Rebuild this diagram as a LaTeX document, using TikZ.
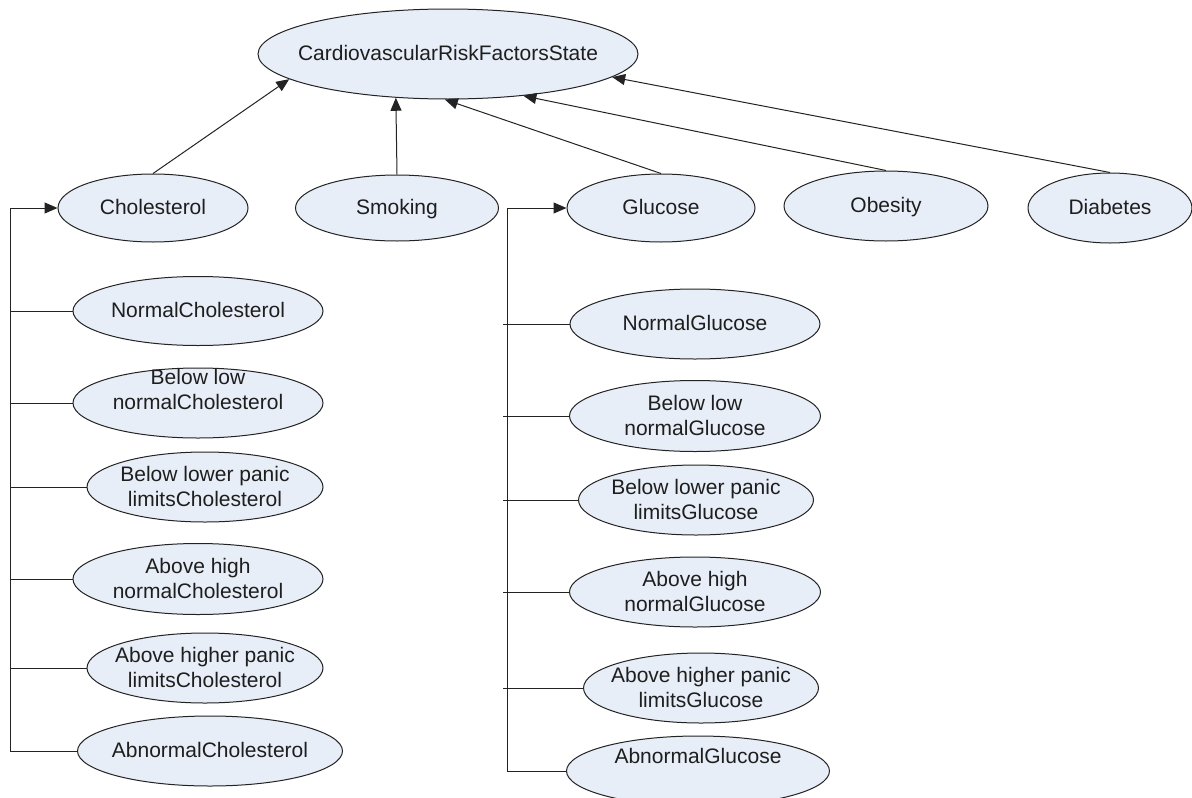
\documentclass[tikz,border=0pt]{standalone}
\usepackage{fontspec}
\setmainfont{Liberation Sans}
\usetikzlibrary{arrows.meta,shapes.geometric}
\definecolor{ellfill}{RGB}{232,238,248}
\definecolor{edgecol}{RGB}{35,35,35}
\definecolor{textcol}{RGB}{30,30,30}
% zero-size label so that the ellipse takes exactly its minimum size
\newcommand{\ctext}[2][0pt]{\makebox[0pt]{\raisebox{\dimexpr#1-6.75pt\relax}[0pt][0pt]{\begin{tabular}{@{}c@{}}#2\end{tabular}}}}
\begin{document}
\begin{tikzpicture}[x=1pt,y=-1pt,
  st/.style={ellipse,draw=edgecol,fill=ellfill,line width=1pt,inner sep=0pt,
    text=textcol,font=\fontsize{21pt}{25pt}\selectfont},
  link/.style={draw=edgecol,line width=1pt},
  arr/.style={link,-{Triangle[length=13pt,width=11pt]}}]
\useasboundingbox (0,0) rectangle (1192,798);
\fill[white] (0,0) rectangle (1192,798);

% top node
\node[st,minimum width=380pt,minimum height=90pt] (top) at (448,54) {\ctext{CardiovascularRiskFactorsState}};

% second level
\node[st,minimum width=190pt,minimum height=68pt] (chol) at (153,208) {\ctext{Cholesterol}};
\node[st,minimum width=203pt,minimum height=66pt] (smok) at (397,208) {\ctext{Smoking}};
\node[st,minimum width=188pt,minimum height=68pt] (glu) at (661,208) {\ctext{Glucose}};
\node[st,minimum width=204pt,minimum height=70pt] (obes) at (886,206) {\ctext{Obesity}};
\node[st,minimum width=164pt,minimum height=70pt] (diab) at (1110,208) {\ctext{Diabetes}};

% cholesterol states
\node[st,minimum width=250pt,minimum height=69pt] (nchol) at (198,311) {\ctext{NormalCholesterol}};
\node[st,minimum width=250pt,minimum height=70pt] (blchol) at (198,403) {\ctext[13pt]{Below low\\normalCholesterol}};
\node[st,minimum width=236pt,minimum height=70pt] (blpchol) at (205,487) {\ctext{Below lower panic\\limitsCholesterol}};
\node[st,minimum width=250pt,minimum height=71pt] (ahchol) at (198,579) {\ctext{Above high\\normalCholesterol}};
\node[st,minimum width=236pt,minimum height=70pt] (ahpchol) at (205,668) {\ctext{Above higher panic\\limitsCholesterol}};
\node[st,minimum width=265pt,minimum height=70pt] (abchol) at (210,751) {\ctext{AbnormalCholesterol}};

% glucose states
\node[st,minimum width=250pt,minimum height=70pt] (nglu) at (695,324) {\ctext{NormalGlucose}};
\node[st,minimum width=251pt,minimum height=71pt] (blglu) at (695,416) {\ctext{Below low\\normalGlucose}};
\node[st,minimum width=235pt,minimum height=70pt] (blpglu) at (696,500) {\ctext{Below lower panic\\limitsGlucose}};
\node[st,minimum width=251pt,minimum height=70pt] (ahglu) at (695,592) {\ctext{Above high\\normalGlucose}};
\node[st,minimum width=235pt,minimum height=70pt] (ahpglu) at (701,688) {\ctext{Above higher panic\\limitsGlucose}};
\node[st,minimum width=263pt,minimum height=70pt] (abglu) at (698,771) {\ctext[14pt]{AbnormalGlucose}};

% arrows to top
\draw[arr] (chol.north) -- (top.189);
\draw[arr] (smok.north) -- (top.220);
\draw[arr] (glu.north) -- (top.266);
\draw[arr] (obes.north) -- (top.331);
\draw[arr] (diab.north) -- (top.352);

% cholesterol bracket
\coordinate (cx) at (10,0);
\draw[arr] (cx |- abchol.west) -- (cx |- chol.west) -- (chol.west);
\draw[link] (cx |- nchol.west) -- (nchol.west);
\draw[link] (cx |- blchol.west) -- (blchol.west);
\draw[link] (cx |- blpchol.west) -- (blpchol.west);
\draw[link] (cx |- ahchol.west) -- (ahchol.west);
\draw[link] (cx |- ahpchol.west) -- (ahpchol.west);
\draw[link] (cx |- abchol.west) -- (abchol.west);

% glucose bracket
\coordinate (gx) at (507,0);
\coordinate (gs) at (503,0);
\draw[arr] (gx |- abglu.west) -- (gx |- glu.west) -- (glu.west);
\draw[link] (gs |- nglu.west) -- (nglu.west);
\draw[link] (gs |- blglu.west) -- (blglu.west);
\draw[link] (gs |- blpglu.west) -- (blpglu.west);
\draw[link] (gs |- ahglu.west) -- (ahglu.west);
\draw[link] (gs |- ahpglu.west) -- (ahpglu.west);
\draw[link] (gx |- abglu.west) -- (abglu.west);
\end{tikzpicture}
\end{document}
